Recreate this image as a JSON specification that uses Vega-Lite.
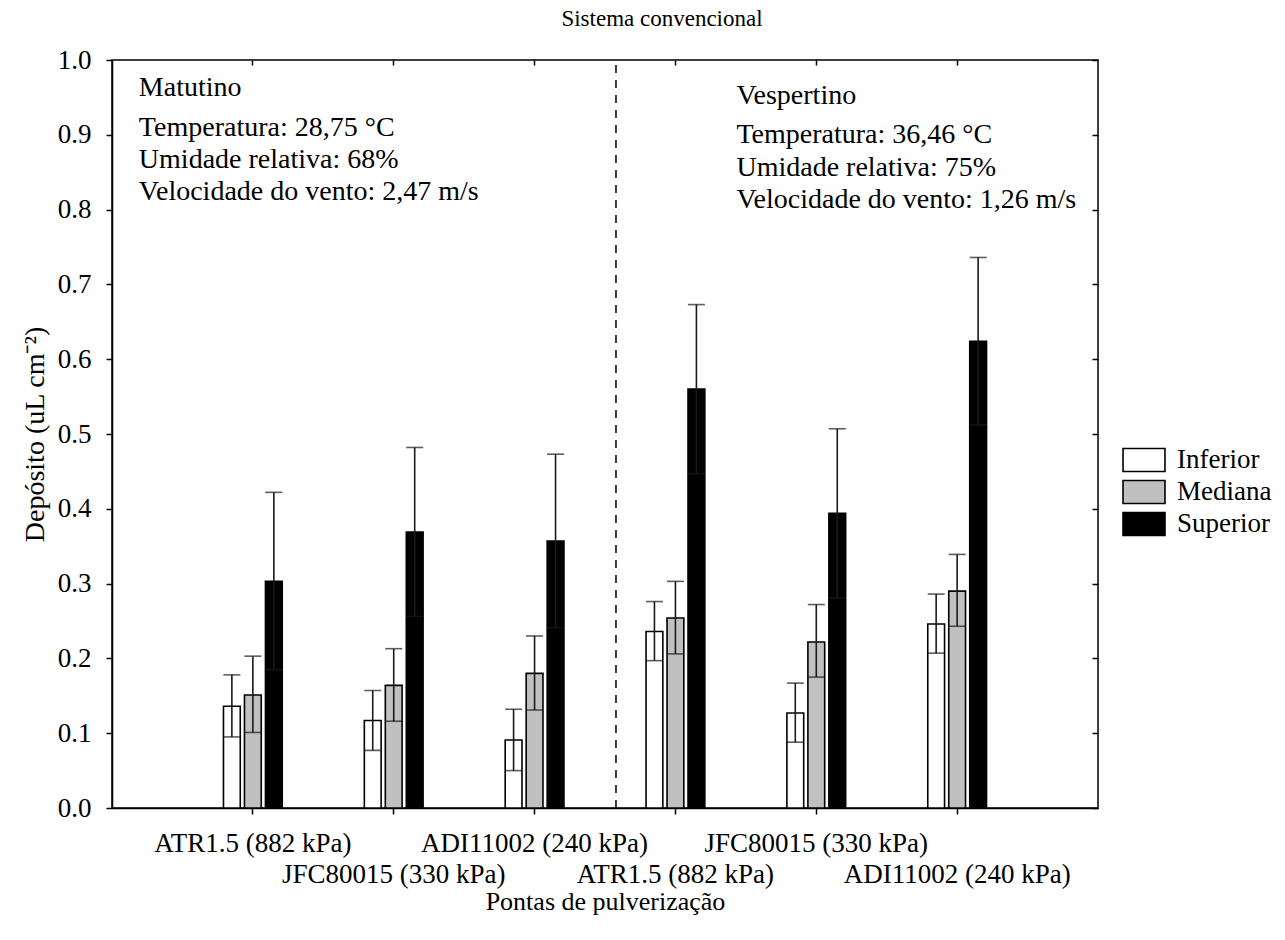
{
  "$schema": "https://vega.github.io/schema/vega-lite/v6.json",
  "width": 986,
  "height": 748,
  "autosize": {"type": "none"},
  "padding": {"left": 112, "top": 60, "right": 187, "bottom": 132},
  "background": "white",
  "title": {"text": "Sistema convencional", "font": "Liberation Serif", "fontSize": 23, "fontWeight": "normal", "color": "black", "offset": 15, "dx": 57},
  "config": {
    "view": {"stroke": "black", "strokeWidth": 1.5},
    "axis": {
      "labelFont": "Liberation Serif", "titleFont": "Liberation Serif",
      "labelFontSize": 27, "titleFontSize": 26, "labelColor": "black", "titleColor": "black",
      "titleFontWeight": "normal", "tickColor": "black", "domainColor": "black",
      "domainWidth": 1.5, "tickWidth": 1.5, "grid": false
    },
    "text": {"font": "Liberation Serif", "fontSize": 28, "color": "black"}
  },
  "datasets": {
    "barras": [
      {"tratamento": "Matutino | ATR1.5 (882 kPa)", "posicao": "Inferior", "deposito": 0.136, "li": 0.095, "ls": 0.178},
      {"tratamento": "Matutino | ATR1.5 (882 kPa)", "posicao": "Mediana", "deposito": 0.151, "li": 0.101, "ls": 0.203},
      {"tratamento": "Matutino | ATR1.5 (882 kPa)", "posicao": "Superior", "deposito": 0.303, "li": 0.185, "ls": 0.422},
      {"tratamento": "Matutino | JFC80015 (330 kPa)", "posicao": "Inferior", "deposito": 0.117, "li": 0.077, "ls": 0.157},
      {"tratamento": "Matutino | JFC80015 (330 kPa)", "posicao": "Mediana", "deposito": 0.164, "li": 0.116, "ls": 0.213},
      {"tratamento": "Matutino | JFC80015 (330 kPa)", "posicao": "Superior", "deposito": 0.369, "li": 0.256, "ls": 0.482},
      {"tratamento": "Matutino | ADI11002 (240 kPa)", "posicao": "Inferior", "deposito": 0.091, "li": 0.050, "ls": 0.132},
      {"tratamento": "Matutino | ADI11002 (240 kPa)", "posicao": "Mediana", "deposito": 0.180, "li": 0.131, "ls": 0.230},
      {"tratamento": "Matutino | ADI11002 (240 kPa)", "posicao": "Superior", "deposito": 0.357, "li": 0.241, "ls": 0.473},
      {"tratamento": "Vespertino | ATR1.5 (882 kPa)", "posicao": "Inferior", "deposito": 0.236, "li": 0.197, "ls": 0.276},
      {"tratamento": "Vespertino | ATR1.5 (882 kPa)", "posicao": "Mediana", "deposito": 0.254, "li": 0.206, "ls": 0.303},
      {"tratamento": "Vespertino | ATR1.5 (882 kPa)", "posicao": "Superior", "deposito": 0.560, "li": 0.447, "ls": 0.673},
      {"tratamento": "Vespertino | JFC80015 (330 kPa)", "posicao": "Inferior", "deposito": 0.127, "li": 0.088, "ls": 0.167},
      {"tratamento": "Vespertino | JFC80015 (330 kPa)", "posicao": "Mediana", "deposito": 0.222, "li": 0.175, "ls": 0.272},
      {"tratamento": "Vespertino | JFC80015 (330 kPa)", "posicao": "Superior", "deposito": 0.394, "li": 0.281, "ls": 0.507},
      {"tratamento": "Vespertino | ADI11002 (240 kPa)", "posicao": "Inferior", "deposito": 0.246, "li": 0.207, "ls": 0.286},
      {"tratamento": "Vespertino | ADI11002 (240 kPa)", "posicao": "Mediana", "deposito": 0.290, "li": 0.243, "ls": 0.339},
      {"tratamento": "Vespertino | ADI11002 (240 kPa)", "posicao": "Superior", "deposito": 0.624, "li": 0.512, "ls": 0.736}
    ],
    "notas": [
      {"periodo": "Matutino", "tratamento": "Matutino | ATR1.5 (882 kPa)", "texto": "Matutino", "y": 0.952},
      {"periodo": "Matutino", "tratamento": "Matutino | ATR1.5 (882 kPa)", "texto": "Temperatura: 28,75 °C", "y": 0.898},
      {"periodo": "Matutino", "tratamento": "Matutino | ATR1.5 (882 kPa)", "texto": "Umidade relativa: 68%", "y": 0.856},
      {"periodo": "Matutino", "tratamento": "Matutino | ATR1.5 (882 kPa)", "texto": "Velocidade do vento: 2,47 m/s", "y": 0.8126},
      {"periodo": "Vespertino", "tratamento": "Vespertino | ATR1.5 (882 kPa)", "texto": "Vespertino", "y": 0.9407},
      {"periodo": "Vespertino", "tratamento": "Vespertino | ATR1.5 (882 kPa)", "texto": "Temperatura: 36,46 °C", "y": 0.8894},
      {"periodo": "Vespertino", "tratamento": "Vespertino | ATR1.5 (882 kPa)", "texto": "Umidade relativa: 75%", "y": 0.8447},
      {"periodo": "Vespertino", "tratamento": "Vespertino | ATR1.5 (882 kPa)", "texto": "Velocidade do vento: 1,26 m/s", "y": 0.8024}
    ],
    "divisao": [
      {"limite": "Matutino | ADI11002 (240 kPa)"}
    ]
  },
  "layer": [
    {
      "data": {"name": "barras"},
      "mark": {"type": "bar", "stroke": "black", "strokeWidth": 1.6},
      "encoding": {
        "x": {
          "field": "tratamento", "type": "nominal",
          "scale": {
            "domain": ["Matutino | ATR1.5 (882 kPa)", "Matutino | JFC80015 (330 kPa)", "Matutino | ADI11002 (240 kPa)", "Vespertino | ATR1.5 (882 kPa)", "Vespertino | JFC80015 (330 kPa)", "Vespertino | ADI11002 (240 kPa)"],
            "paddingInner": 0.553, "paddingOuter": 0.7765
          },
          "axis": {
            "orient": "bottom", "title": "Pontas de pulverização",
            "labelExpr": "indexof(['Matutino | JFC80015 (330 kPa)', 'Vespertino | ATR1.5 (882 kPa)', 'Vespertino | ADI11002 (240 kPa)'], datum.value) >= 0 ? ['', split(datum.value, ' | ')[1]] : split(datum.value, ' | ')[1]",
            "labelAngle": 0, "labelBaseline": "top", "labelLineHeight": 31, "labelPadding": 16,
            "labelOverlap": false, "labelLimit": 0, "tickSize": 6, "titlePadding": 1
          }
        },
        "xOffset": {"field": "posicao", "type": "nominal", "scale": {"domain": ["Inferior", "Mediana", "Superior"], "paddingInner": 0.2, "paddingOuter": 0.1}},
        "y": {
          "field": "deposito", "type": "quantitative",
          "scale": {"domain": [0, 1], "nice": false, "zero": true},
          "axis": {"orient": "left", "title": "Depósito (uL cm⁻²)", "format": ".1f", "values": [0, 0.1, 0.2, 0.3, 0.4, 0.5, 0.6, 0.7, 0.8, 0.9, 1.0], "tickSize": 6, "labelPadding": 15, "titlePadding": 8, "titleFontSize": 28}
        },
        "fill": {
          "field": "posicao", "type": "nominal",
          "scale": {"domain": ["Inferior", "Mediana", "Superior"], "range": ["white", "#c0c0c0", "black"]},
          "legend": {
            "orient": "none", "legendX": 1016, "legendY": 384, "title": null,
            "symbolType": "M-1.4,-0.767H1.4V0.767H-1.4Z", "symbolSize": 900,
            "symbolStrokeColor": "black", "symbolStrokeWidth": 1.6, "symbolOpacity": 1,
            "labelFont": "Liberation Serif", "labelFontSize": 27, "labelColor": "black",
            "labelOffset": 17, "rowPadding": 1
          }
        }
      }
    },
    {
      "data": {"name": "barras"},
      "mark": {"type": "rule", "color": "#1a1a1a", "strokeWidth": 1.6},
      "encoding": {
        "x": {"field": "tratamento", "type": "nominal", "axis": {"orient": "top", "labels": false, "title": null, "tickSize": -5, "domain": false}},
        "xOffset": {"field": "posicao", "type": "nominal"},
        "y": {"field": "li", "type": "quantitative", "axis": {"orient": "right", "labels": false, "title": null, "tickSize": -6, "domain": false, "values": [0, 0.1, 0.2, 0.3, 0.4, 0.5, 0.6, 0.7, 0.8, 0.9, 1.0]}},
        "y2": {"field": "ls"}
      }
    },
    {
      "data": {"name": "barras"},
      "mark": {"type": "tick", "color": "#1a1a1a", "thickness": 1.6, "size": 17},
      "encoding": {
        "x": {"field": "tratamento", "type": "nominal", "axis": null},
        "xOffset": {"field": "posicao", "type": "nominal"},
        "y": {"field": "ls", "type": "quantitative", "axis": null}
      }
    },
    {
      "data": {"name": "barras"},
      "mark": {"type": "tick", "color": "#1a1a1a", "thickness": 1.6, "size": 17},
      "encoding": {
        "x": {"field": "tratamento", "type": "nominal", "axis": null},
        "xOffset": {"field": "posicao", "type": "nominal"},
        "y": {"field": "li", "type": "quantitative", "axis": null}
      }
    },
    {
      "data": {"name": "divisao"},
      "mark": {"type": "rule", "color": "black", "strokeWidth": 1.5, "strokeDash": [8, 7]},
      "encoding": {
        "x": {"field": "limite", "type": "nominal", "bandPosition": 1.793, "axis": null},
        "y": {"datum": 0, "type": "quantitative", "axis": null},
        "y2": {"datum": 1}
      }
    },
    {
      "data": {"name": "notas"},
      "transform": [{"filter": "datum.periodo == 'Matutino'"}],
      "mark": {"type": "text", "align": "left", "baseline": "alphabetic", "dx": -114},
      "encoding": {
        "x": {"field": "tratamento", "type": "nominal", "axis": null},
        "y": {"field": "y", "type": "quantitative", "axis": null},
        "text": {"field": "texto"}
      }
    },
    {
      "data": {"name": "notas"},
      "transform": [{"filter": "datum.periodo == 'Vespertino'"}],
      "mark": {"type": "text", "align": "left", "baseline": "alphabetic", "dx": 61},
      "encoding": {
        "x": {"field": "tratamento", "type": "nominal", "axis": null},
        "y": {"field": "y", "type": "quantitative", "axis": null},
        "text": {"field": "texto"}
      }
    }
  ]
}
